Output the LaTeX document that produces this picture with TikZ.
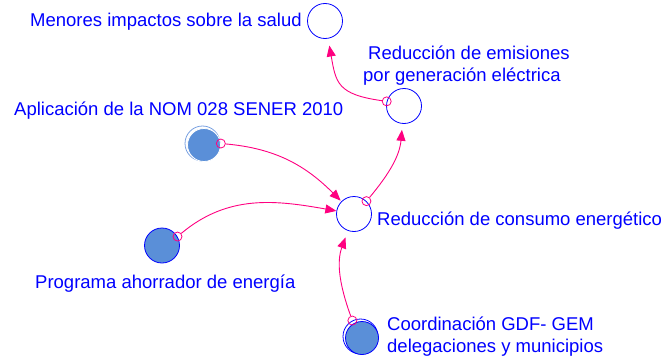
\documentclass[tikz,border=0pt]{standalone}
\usepackage{fontspec}
\setmainfont{Liberation Sans}
\usetikzlibrary{arrows.meta}
\definecolor{lbl}{RGB}{0,0,255}
\definecolor{lnk}{RGB}{255,0,128}
\definecolor{stk}{RGB}{90,143,216}
\definecolor{ringc}{RGB}{120,160,225}
\begin{document}
\begin{tikzpicture}[x=1pt,y=1pt,
  lab/.style={text=lbl, font=\fontsize{18.5}{21}\selectfont, inner sep=0pt, anchor=base west},
  aux/.style={circle, draw=lbl, line width=0.8pt, minimum size=35pt, inner sep=0pt},
  ringnode/.style={circle, line width=0.8pt, minimum size=35pt, inner sep=0pt},
  stock/.style={circle, fill=stk, line width=0.8pt, minimum size=33pt, inner sep=0pt},
  orig/.style={circle, draw=lnk, line width=0.8pt, minimum size=9pt, inner sep=0pt},
  link/.style={draw=lnk, line width=0.9pt, -{Triangle[length=11pt,width=9pt]}},
]
\useasboundingbox (0,0) rectangle (666,357);

% variables
\node[aux] (m) at (325,336) {};
\node[aux] (e) at (404,251) {};
\node[aux] (c) at (354,143) {};
\node[ringnode, draw=ringc] (nr) at (202.5,213.5) {};
\node[stock, draw=white] (n) at (204,212) {};
\node[stock, draw=lbl, minimum size=35pt] (p) at (162,111.5) {};
\node[ringnode, draw=lbl] (gr) at (360.5,20.5) {};
\node[stock, draw=lbl] (g) at (362,19) {};

% labels
\node[lab] (tm) at (30,330) {Menores impactos sobre la salud};
\node[lab] (te1) at (368,298) {Reducción de emisiones};
\node[lab] (te2) at (363,276) {por generación eléctrica};
\node[lab] (tn) at (14,242) {Aplicación de la NOM 028 SENER 2010};
\node[lab] (tc) at (377,132) {Reducción de consumo energético};
\node[lab] (tp) at (35,69) {Programa ahorrador de energía};
\node[lab] (tg1) at (387,27) {Coordinación GDF- GEM};
\node[lab] (tg2) at (387,5) {delegaciones y municipios};

% origin markers
\node[orig] (em) at (e.165) {};
\node[orig] (cm) at (c.46) {};
\node[orig] (nm) at (n.5) {};
\node[orig] (pm) at (p.30) {};
\node[orig] (gm) at (gr.117) {};

% links
\draw[link, shorten >=7pt] (em) to[out=172, in=-80, looseness=1.4] (m);
\draw[link, shorten >=6pt] (cm) to[out=50, in=-95] (e);
\draw[link, shorten >=1pt] (nm) to[out=-5, in=135] (c);
\draw[link, shorten >=0pt] (pm) to[out=40, in=170] (c);
\draw[link, shorten >=7pt] (gm) to[out=110, in=-110] (c);
\end{tikzpicture}
\end{document}
